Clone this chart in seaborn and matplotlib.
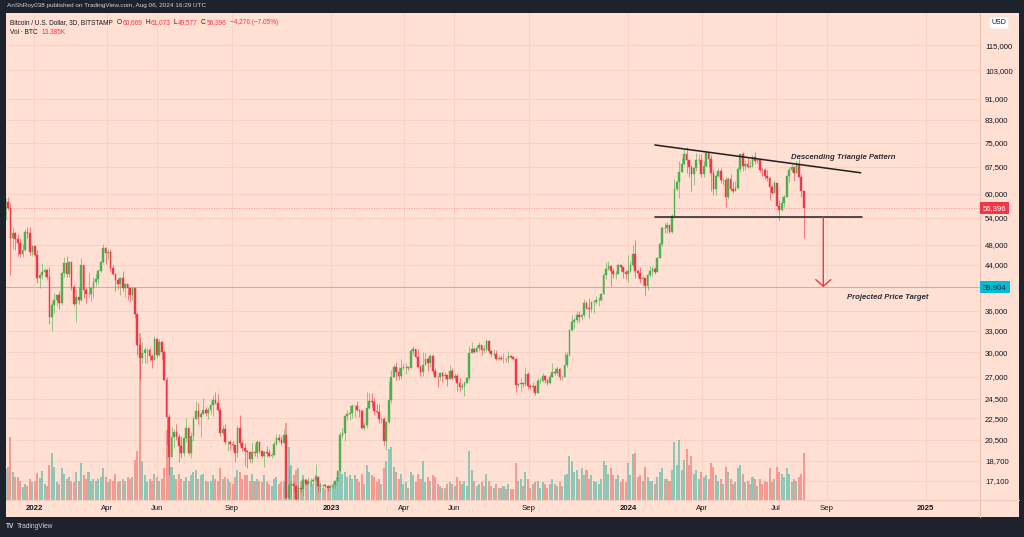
import numpy as np
import pandas as pd
import matplotlib
matplotlib.use("Agg")
import matplotlib.pyplot as plt
import matplotlib.dates as mdates
import matplotlib.transforms as mtransforms
from matplotlib.patches import Rectangle
from matplotlib.ticker import NullLocator, FixedLocator, FixedFormatter
import seaborn as sns

# ---------------- data (BTC/USD, 3D candles, Bitstamp; values in thousands USD) -------------
start_date = "2021-11-27"
bar_days = 3
first_open = 54.7

closes = [
    57.8, 56.5, 49.4, 50.6, 49.3, 48.4, 46.2, 46.9, 50.8, 50.6, 46.5, 47.7,
    45.9, 41.6, 42.0, 42.6, 43.1, 41.7, 35.1, 36.9, 37.7, 38.5,
    37.3, 42.4, 44.3, 42.2, 44.6, 40.0, 37.0, 38.3, 37.7, 44.0,
    39.4, 38.7, 38.8, 39.7, 40.9, 41.3, 42.9, 44.5, 47.4, 46.3,
    46.6, 43.4, 42.2, 41.1, 40.4, 41.5, 39.7, 40.4, 39.7, 38.5,
    39.7, 35.5, 31.0, 29.3, 29.9, 30.3, 30.3, 29.5, 29.0, 31.8,
    29.7, 31.4, 30.1, 26.6, 22.6, 19.0, 20.7, 21.2, 20.7, 19.9,
    19.3, 20.6, 21.6, 19.3, 20.8, 22.4, 23.2, 22.6, 22.9, 23.3,
    23.0, 23.3, 23.8, 24.4, 24.1, 23.3, 21.1, 21.5, 20.3, 20.3,
    20.1, 20.0, 19.3, 21.6, 20.2, 19.8, 19.5, 19.4, 18.8, 19.4,
    19.3, 20.3, 19.5, 19.1, 19.4, 19.3, 19.1, 19.2, 20.1, 20.6,
    20.5, 20.2, 20.9, 15.9, 16.8, 16.9, 16.7, 15.8, 16.6, 16.5,
    17.2, 16.9, 17.1, 17.1, 17.2, 17.4, 16.7, 16.8, 16.8, 16.7, 16.6,
    16.7, 16.8, 17.1, 17.9, 20.9, 21.1, 22.7, 22.9, 23.0, 23.7,
    23.7, 23.3, 23.2, 21.6, 21.8, 23.5, 24.3, 24.2, 23.2, 23.1,
    22.4, 22.4, 20.4, 22.1, 24.4, 26.9, 28.2, 27.5, 27.1, 28.0,
    28.2, 28.2, 28.0, 30.2, 30.5, 29.4, 28.2, 27.6, 28.4, 29.2,
    28.7, 29.5, 27.7, 27.0, 26.9, 27.4, 27.1, 27.2, 26.7, 27.7,
    26.8, 27.1, 26.3, 25.8, 25.9, 26.3, 26.8, 29.9, 30.5, 30.1,
    30.6, 31.0, 30.3, 30.4, 31.5, 30.2, 29.8, 29.8, 29.2, 29.3,
    29.2, 29.2, 29.1, 29.6, 29.4, 29.2, 26.0, 26.1, 26.2, 26.1,
    27.3, 25.9, 25.8, 25.9, 25.1, 26.5, 26.5, 27.1, 26.6, 26.2,
    27.0, 27.5, 27.4, 27.9, 26.9, 26.9, 28.4, 29.7, 33.1, 34.2,
    34.5, 35.4, 35.0, 35.4, 37.3, 36.5, 36.2, 37.4, 37.4, 37.8,
    37.8, 38.7, 42.0, 43.3, 43.8, 42.9, 42.3, 42.3, 44.0, 43.6, 42.6,
    42.3, 42.8, 43.9, 46.1, 42.9, 42.5, 41.3, 41.6, 40.1, 42.1, 42.9,
    43.2, 42.7, 45.3, 48.3, 51.8, 51.7, 52.3, 50.7, 54.5, 61.2,
    63.1, 66.1, 68.5, 71.5, 69.5, 67.6, 65.5, 67.2, 69.5, 69.7,
    65.5, 67.8, 71.6, 70.0, 65.7, 61.3, 64.9, 66.4, 63.8, 63.8,
    59.1, 64.0, 61.2, 60.8, 61.6, 67.0, 71.4, 67.9, 68.5, 67.6,
    67.7, 70.6, 69.3, 69.5, 66.7, 66.6, 65.0, 64.2, 61.8, 60.3,
    62.8, 57.0, 55.9, 57.7, 59.2, 65.0, 66.7, 67.6, 65.8, 68.3, 64.6, 60.669, 56.396,
]
highs = [
    58.9, 59.2, 57.6, 51.9, 50.8, 50.3, 49.5, 48.3, 51.4, 51.9, 52.0, 48.0,
    47.5, 47.0, 42.3, 44.4, 43.4, 43.2, 43.5, 37.5, 38.9, 38.7,
    39.2, 42.6, 45.5, 45.8, 44.8, 44.6, 40.4, 39.6, 40.0, 45.4,
    44.0, 39.7, 42.6, 39.9, 41.7, 42.3, 43.3, 44.8, 48.2, 47.6,
    47.2, 47.1, 43.9, 42.4, 41.5, 41.7, 42.9, 40.6, 40.3, 39.9,
    40.0, 39.8, 35.5, 32.0, 31.4, 30.7, 30.6, 30.6, 29.8, 32.2,
    31.9, 31.8, 31.6, 30.3, 26.9, 22.9, 21.7, 21.5, 21.9, 21.0,
    20.8, 20.7, 22.5, 21.6, 21.2, 22.7, 24.3, 24.0, 23.1, 24.6,
    23.6, 23.6, 24.2, 24.9, 25.2, 25.0, 23.6, 21.8, 21.9, 20.4,
    20.5, 20.4, 20.0, 21.8, 22.8, 20.5, 20.2, 19.6, 19.5, 20.3,
    20.1, 20.5, 20.4, 19.6, 19.5, 19.9, 19.7, 19.3, 20.4, 21.0,
    21.0, 20.8, 21.5, 21.0, 18.2, 17.2, 17.0, 16.8, 16.8, 16.6,
    17.3, 17.2, 17.4, 17.3, 17.3, 18.4, 17.5, 17.0, 16.9, 16.9, 16.8,
    16.8, 17.0, 17.2, 17.9, 21.2, 21.6, 22.7, 23.3, 23.8, 23.9,
    23.8, 24.3, 23.4, 23.4, 22.1, 25.2, 25.1, 25.1, 24.6, 23.9,
    23.9, 22.6, 22.6, 22.2, 26.5, 27.8, 28.5, 28.8, 28.2, 29.2,
    28.6, 28.7, 28.2, 30.5, 30.9, 30.5, 30.5, 28.4, 30.0, 29.9,
    29.4, 29.8, 29.8, 28.0, 27.1, 27.6, 27.5, 27.5, 27.2, 28.4,
    28.0, 27.4, 27.3, 26.8, 26.2, 26.5, 26.9, 30.8, 31.4, 30.7,
    31.0, 31.4, 31.0, 31.0, 31.8, 31.6, 30.3, 30.4, 30.3, 29.7,
    29.5, 29.9, 29.3, 30.2, 29.7, 29.6, 29.3, 26.3, 26.8, 26.2,
    28.1, 27.5, 26.1, 26.4, 26.0, 26.8, 26.8, 27.4, 27.2, 26.7,
    27.3, 28.6, 28.0, 28.3, 28.0, 27.1, 30.0, 30.0, 33.2, 35.3,
    34.8, 35.9, 35.9, 35.5, 37.9, 37.5, 38.0, 37.6, 37.8, 38.4,
    38.2, 38.9, 42.4, 44.5, 44.7, 43.8, 43.4, 42.8, 44.3, 43.8, 43.6,
    43.1, 45.9, 44.8, 47.9, 49.0, 43.3, 43.6, 42.0, 41.0, 42.2, 43.8,
    43.7, 43.5, 45.6, 48.6, 52.1, 52.8, 53.0, 52.4, 54.9, 64.0,
    63.2, 69.2, 70.1, 72.9, 73.8, 69.0, 68.1, 67.6, 71.7, 71.5,
    71.4, 69.2, 72.8, 71.8, 71.2, 66.9, 65.4, 67.2, 67.1, 64.7,
    64.7, 64.5, 65.4, 63.4, 63.4, 67.4, 71.5, 71.9, 69.5, 70.6,
    69.5, 71.0, 71.9, 70.0, 70.0, 67.2, 67.2, 66.5, 64.5, 62.4,
    63.8, 63.0, 58.5, 59.4, 59.6, 65.3, 67.4, 68.4, 67.0, 69.4, 70.0, 65.5, 61.073,
]
lows = [
    53.6, 55.9, 42.0, 47.1, 46.9, 45.7, 45.6, 45.5, 46.7, 49.5, 46.0, 45.7,
    45.7, 40.7, 39.7, 41.3, 41.8, 41.3, 34.0, 32.9, 35.6, 36.7,
    36.3, 36.9, 41.7, 41.8, 41.8, 39.5, 36.8, 34.3, 37.0, 37.5,
    38.1, 37.2, 38.3, 37.6, 38.1, 40.2, 40.5, 42.6, 44.4, 44.2,
    45.1, 42.8, 42.1, 39.2, 39.6, 38.6, 39.3, 38.2, 37.7, 37.4,
    37.7, 34.8, 29.7, 26.7, 28.7, 28.7, 28.7, 28.9, 28.0, 29.2,
    29.3, 29.5, 29.2, 26.6, 20.1, 17.6, 19.6, 19.8, 20.5, 18.6,
    18.9, 19.1, 20.3, 19.2, 18.9, 20.4, 22.4, 21.9, 20.7, 23.1,
    22.7, 22.4, 22.9, 22.7, 23.9, 23.2, 20.8, 20.9, 20.1, 19.5,
    19.6, 19.6, 18.6, 19.0, 19.9, 19.5, 18.3, 18.1, 18.6, 18.5,
    19.1, 18.9, 19.3, 19.0, 18.2, 19.0, 19.0, 18.9, 19.1, 20.0,
    20.3, 20.0, 20.2, 15.6, 15.8, 15.9, 16.4, 15.5, 15.8, 16.3,
    16.0, 16.8, 16.9, 16.7, 16.9, 17.1, 16.3, 16.3, 16.6, 16.6, 16.4,
    16.5, 16.6, 16.6, 17.1, 17.9, 20.6, 20.4, 22.3, 22.3, 22.5,
    22.6, 23.2, 22.6, 21.5, 21.4, 21.6, 23.4, 23.6, 22.8, 23.0,
    22.0, 22.0, 20.0, 19.6, 21.9, 24.1, 26.9, 26.6, 26.6, 26.7,
    27.9, 27.3, 27.8, 28.2, 29.7, 29.3, 28.0, 27.1, 27.1, 28.9,
    27.7, 28.1, 27.3, 26.8, 25.8, 26.6, 26.4, 26.7, 25.9, 26.7,
    26.6, 26.6, 25.3, 25.4, 25.6, 24.8, 26.2, 26.6, 29.9, 29.9,
    30.0, 30.2, 29.7, 29.9, 30.2, 29.9, 29.5, 29.6, 29.0, 29.0,
    29.0, 28.6, 28.8, 28.7, 29.3, 29.0, 25.2, 25.8, 25.4, 25.8,
    25.9, 25.6, 25.6, 25.4, 24.9, 25.1, 26.2, 26.4, 26.2, 26.0,
    26.1, 26.9, 27.2, 27.2, 26.6, 26.6, 26.9, 28.2, 29.6, 32.9,
    33.4, 34.1, 34.3, 34.5, 35.0, 36.3, 34.8, 35.8, 35.6, 37.0,
    36.8, 37.5, 38.7, 41.4, 43.0, 40.2, 41.6, 41.3, 42.2, 42.8, 41.5,
    41.3, 40.8, 42.6, 43.6, 41.5, 41.7, 40.7, 40.3, 38.5, 39.5, 41.8,
    41.9, 42.3, 42.6, 45.3, 47.7, 50.6, 50.6, 50.5, 50.6, 54.4,
    60.8, 59.0, 66.1, 68.1, 65.6, 64.6, 60.8, 62.3, 66.4, 68.4,
    64.5, 64.5, 67.5, 67.5, 60.7, 59.7, 59.6, 64.5, 62.8, 62.4,
    56.6, 58.7, 60.8, 60.2, 60.8, 61.3, 65.9, 66.3, 66.7, 67.1,
    67.1, 67.4, 68.5, 68.8, 66.1, 65.0, 64.1, 63.4, 58.4, 60.0,
    60.3, 56.8, 53.5, 55.7, 56.6, 59.4, 63.3, 66.0, 63.5, 65.7, 64.5, 59.1, 49.577,
]
volumes_k = [
    8.8, 9.5, 18.0, 8.1, 6.7, 6.7, 5.5, 3.8, 4.5, 4.0, 6.0, 5.0,
    5.5, 7.8, 6.2, 8.4, 4.5, 4.0, 10.0, 13.3, 9.5, 5.0,
    4.5, 9.0, 7.5, 6.0, 6.5, 5.5, 5.0, 8.0, 5.5, 10.5,
    7.0, 6.0, 8.0, 5.5, 6.0, 5.5, 6.0, 6.5, 9.0, 6.5,
    5.0, 6.0, 5.5, 7.5, 5.0, 5.5, 6.0, 5.5, 6.5, 6.0,
    6.5, 11.5, 14.0, 47.6, 11.0, 7.0, 5.0, 6.0, 5.5, 7.5,
    6.5, 5.5, 6.0, 9.0, 20.0, 18.0, 9.5, 7.0, 6.0, 7.5,
    6.0, 5.5, 6.5, 5.5, 7.0, 8.0, 8.5, 6.0, 7.0, 7.5,
    5.5, 5.0, 5.5, 7.0, 6.0, 5.5, 9.0, 6.0, 6.5, 6.0,
    5.0, 4.5, 6.5, 8.5, 8.0, 6.0, 7.0, 7.0, 5.5, 7.5,
    5.5, 6.0, 5.5, 5.0, 7.0, 5.0, 4.5, 4.0, 6.0, 6.5,
    4.5, 5.0, 5.5, 22.0, 15.0, 10.0, 7.0, 8.5, 9.0, 5.5,
    7.0, 6.0, 5.0, 5.0, 4.5, 7.0, 5.5, 4.5, 3.5, 3.0, 3.5,
    3.0, 4.0, 4.5, 6.5, 11.0, 7.5, 8.0, 6.5, 7.0, 6.0,
    7.0, 6.0, 5.0, 7.5, 4.5, 10.0, 8.0, 7.0, 6.5, 5.0,
    6.0, 4.5, 9.0, 11.0, 14.5, 15.0, 9.5, 8.0, 6.0, 7.5,
    4.5, 5.0, 3.5, 8.0, 7.0, 5.0, 7.5, 6.0, 11.0, 5.0,
    6.5, 5.5, 7.0, 6.5, 4.5, 4.0, 3.5, 3.5, 4.5, 5.0,
    4.5, 4.0, 6.5, 5.5, 4.5, 5.5, 4.0, 14.0, 8.5, 5.5,
    4.0, 4.5, 5.0, 4.0, 7.5, 5.5, 4.0, 3.5, 4.5, 3.5,
    3.5, 4.0, 3.0, 4.5, 3.0, 3.0, 10.5, 5.5, 6.0, 4.0,
    8.0, 6.0, 3.5, 4.5, 5.0, 5.5, 3.5, 5.0, 4.5, 3.5,
    4.5, 6.0, 4.5, 4.0, 5.0, 4.0, 7.0, 7.5, 12.5, 11.0,
    8.0, 8.5, 6.0, 9.0, 7.0, 8.5, 6.0, 7.0, 5.5, 5.0,
    4.5, 6.0, 11.0, 10.0, 7.5, 9.0, 7.0, 6.0, 7.0, 5.0, 6.0,
    5.0, 10.5, 7.0, 13.0, 13.5, 6.5, 7.0, 5.5, 9.5, 6.5, 5.5,
    5.5, 4.5, 6.5, 8.0, 9.0, 6.0, 6.0, 5.5, 8.5, 16.5,
    10.0, 17.0, 8.5, 11.5, 14.5, 10.0, 12.5, 7.5, 8.5, 6.0,
    8.0, 6.5, 7.0, 6.0, 10.5, 9.5, 7.0, 5.5, 6.0, 4.5,
    9.5, 8.0, 6.0, 4.5, 5.0, 9.0, 10.0, 7.5, 5.0, 5.5,
    4.5, 6.5, 6.0, 4.0, 6.0, 4.5, 5.5, 5.0, 9.0, 5.0,
    6.0, 9.5, 8.0, 7.5, 6.5, 9.0, 7.5, 5.0, 6.0, 5.5, 6.5, 7.5, 13.385,
]

price_ticks = [17100, 18700, 20500, 22500, 24500, 27000, 30000, 33000, 36000,
               44000, 48000, 54000, 60000, 67500, 75000, 83000, 91000, 103000, 115000]
time_ticks = ["2022-01-01", "2022-04-01", "2022-06-01", "2022-09-01", "2023-01-01",
              "2023-04-01", "2023-06-01", "2023-09-01", "2024-01-01", "2024-04-01",
              "2024-07-01", "2024-09-01", "2025-01-01"]
time_labels = ["2022", "Apr", "Jun", "Sep", "2023", "Apr", "Jun", "Sep", "2024", "Apr",
               "Jul", "Sep", "2025"]

# drawings (trendlines / target)
trend_dates = ["2024-02-03", "2024-10-13"]
trend_prices = [74300, 65800]
support_dates = ["2024-02-03", "2024-10-15"]
support_price = 54200
target_date = "2024-08-28"
target_price = 39904
last_price = 56396
pattern_label = ("2024-07-19", 70300, "Descending Triangle Pattern")
target_label = ("2024-09-26", 38100, "Projected Price Target")

# ---------------- build frame -------------
n = len(closes)
assert len(highs) == n and len(lows) == n and len(volumes_k) == n, (n, len(highs), len(lows), len(volumes_k))
df = pd.DataFrame({
    "date": pd.date_range(start_date, periods=n, freq=f"{bar_days}D"),
    "close": np.array(closes) * 1000,
    "high": np.array(highs) * 1000,
    "low": np.array(lows) * 1000,
    "volume": np.array(volumes_k),
})
df["open"] = np.r_[first_open, closes[:-1]] * 1000
df["high"] = np.maximum(df["high"], df[["open", "close"]].max(axis=1))
df["low"] = np.minimum(df["low"], df[["open", "close"]].min(axis=1))
df["up"] = df["close"] >= df["open"]

# ---------------- style -------------
sns.set_theme(style="white")
plt.rcParams["font.family"] = ["Liberation Sans", "DejaVu Sans"]
BG = "#ffe0d3"
DARK = "#1e222d"
TXT = "#131722"
UP, DN = "#4caf50", "#f23645"
VUP, VDN = "#8fc6b5", "#f59a92"
GRID = "#f6d3c6"

W, H = 1024, 537
fig = plt.figure(figsize=(W / 100, H / 100), dpi=100, facecolor=DARK)


def rect(x0, y0, x1, y1):
    return [x0 / W, 1 - y1 / H, (x1 - x0) / W, (y1 - y0) / H]


fig.patches.append(Rectangle((6 / W, 1 - 517 / H), (1019 - 6) / W, (517 - 13) / H,
                             transform=fig.transFigure, facecolor=BG, edgecolor="none", zorder=-10))

ax_vol = fig.add_axes(rect(6, 13, 980, 500), zorder=1)
ax = fig.add_axes(rect(6, 13, 980, 500), zorder=2, sharex=ax_vol)
for a in (ax_vol, ax):
    a.patch.set_alpha(0)
    for s in a.spines.values():
        s.set_visible(False)

x0 = mdates.date2num(pd.Timestamp("2023-01-01"))
ax.set_xlim(x0 - 399.4, x0 + 797.6)
ax.set_yscale("log")
ax.set_ylim(15740, 132300)
ax_vol.set_ylim(0, 139)

# grid behind everything (on volume axes)
gtrans = mtransforms.blended_transform_factory(ax_vol.transAxes, ax.transData)
for p in price_ticks:
    ax_vol.plot([0, 1], [p, p], transform=gtrans, color=GRID, lw=0.7, zorder=0)
for d in time_ticks:
    ax_vol.axvline(mdates.date2num(pd.Timestamp(d)), color=GRID, lw=0.7, zorder=0)

xs = mdates.date2num(df["date"])
vcol = np.where(df["up"], VUP, VDN)
ax_vol.bar(xs, df["volume"], width=2.5, color=vcol, linewidth=0, zorder=2)
ax_vol.set_yticks([])
ax_vol.tick_params(axis="x", length=0, labelbottom=False)

# horizontal lines
ax.axhline(target_price, color="#a9bcc0", lw=0.8, zorder=1)
ax.axhline(last_price, color=DN, lw=0.6, ls=(0, (1, 2)), alpha=0.6, zorder=1)

# candles
ccol = np.where(df["up"], UP, DN)
ax.vlines(xs, df["low"], df["high"], colors=ccol, linewidth=0.7, alpha=0.6, zorder=3)
bottom = df[["open", "close"]].min(axis=1)
top = df[["open", "close"]].max(axis=1)
ax.bar(xs, top - bottom, bottom=bottom, width=2.1, color=ccol, edgecolor=ccol,
       linewidth=0.3, zorder=4)

# drawings
td = mdates.date2num(pd.to_datetime(trend_dates))
ax.plot(td, trend_prices, color="#1f1f1f", lw=1.1, zorder=5)
sd = mdates.date2num(pd.to_datetime(support_dates))
ax.plot(sd, [support_price, support_price], color="#1f1f1f", lw=1.1, zorder=5)
tx = mdates.date2num(pd.Timestamp(target_date))
ax.annotate("", xy=(tx, target_price), xytext=(tx, support_price),
            arrowprops=dict(arrowstyle="->,head_length=0.4,head_width=0.45", color=DN,
                            lw=1.0, shrinkA=0, shrinkB=0), zorder=6)
for (d, p, s) in (pattern_label, target_label):
    ax.text(mdates.date2num(pd.Timestamp(d)), p, s, fontsize=5.6, style="italic",
            fontweight="bold", color="#2a2e39", ha="left", va="center", zorder=6)

# axes ticks
ax.yaxis.tick_right()
ax.yaxis.set_major_locator(FixedLocator(price_ticks))
ax.yaxis.set_major_formatter(FixedFormatter([f"{p:,}" for p in price_ticks]))
ax.yaxis.set_minor_locator(NullLocator())
ax.tick_params(axis="y", length=0, pad=3.6, labelsize=5.6, labelcolor=TXT)
ax.set_xticks(mdates.date2num(pd.to_datetime(time_ticks)))
ax.set_xticklabels(time_labels)
ax.tick_params(axis="x", length=0, pad=3.4, labelsize=5.6, labelcolor=TXT)
for lbl in ax.get_xticklabels():
    if lbl.get_text().isdigit():
        lbl.set_fontweight("bold")

# axis separators
fig.add_artist(plt.Line2D([980 / W, 980 / W], [1 - 13 / H, 1 - 517 / H], color="#e9c3b4", lw=0.8))
fig.add_artist(plt.Line2D([6 / W, 1019 / W], [1 - 500 / H, 1 - 500 / H], color="#efcdbf", lw=0.8))

# price labels on the scale
for price, fc, tc in ((last_price, DN, "white"), (target_price, "#00bcd4", "#0d2b33")):
    ax.annotate(f"{price:,}", xy=(1, price), xycoords=("axes fraction", "data"),
                xytext=(2.2, 0), textcoords="offset points", ha="left", va="center",
                fontsize=5.6, color=tc, zorder=10, annotation_clip=False,
                bbox=dict(boxstyle="square,pad=0.35", fc=fc, ec="none"))
fig.text(999 / W, 1 - 23 / H, "USD", ha="center", va="center", fontsize=5, color=TXT,
         bbox=dict(boxstyle="round,pad=0.35,rounding_size=0.3", fc="white", ec="#e6e6e6", lw=0.5))

# header & legend texts
renderer = fig.canvas.get_renderer()


def seq_text(x_px, y_px, parts, size):
    x = x_px
    for s, color, weight, gap in parts:
        t = fig.text(x / W, 1 - y_px / H, s, color=color, fontsize=size, va="center",
                     ha="left", fontweight=weight)
        bb = t.get_window_extent(renderer=renderer)
        x += bb.width + gap


fig.text(7 / W, 1 - 6 / H, "AnShRoy038 published on TradingView.com, Aug 06, 2024 16:29 UTC",
         color="#d1d4dc", fontsize=4.6, va="center", ha="left")
seq_text(10, 23, [
    ("Bitcoin / U.S. Dollar, 3D, BITSTAMP", TXT, "normal", 3.5),
    ("O", TXT, "normal", 1.0), ("60,669", DN, "normal", 3),
    ("H", TXT, "normal", 1.0), ("61,073", DN, "normal", 3),
    ("L", TXT, "normal", 1.0), ("49,577", DN, "normal", 3),
    ("C", TXT, "normal", 1.0), ("56,396", DN, "normal", 3),
    ("\u22124,276 (\u22127.05%)", DN, "normal", 0),
], 4.7)
seq_text(10, 32, [("Vol \u00b7 BTC", TXT, "normal", 3.5), ("13.385K", DN, "normal", 0)], 4.7)

seq_text(6, 527, [("TV", "#d1d4dc", "bold", 2.5), ("TradingView", "#d1d4dc", "normal", 0)], 4.8)

fig.savefig("out.png", dpi=100, facecolor=DARK)
